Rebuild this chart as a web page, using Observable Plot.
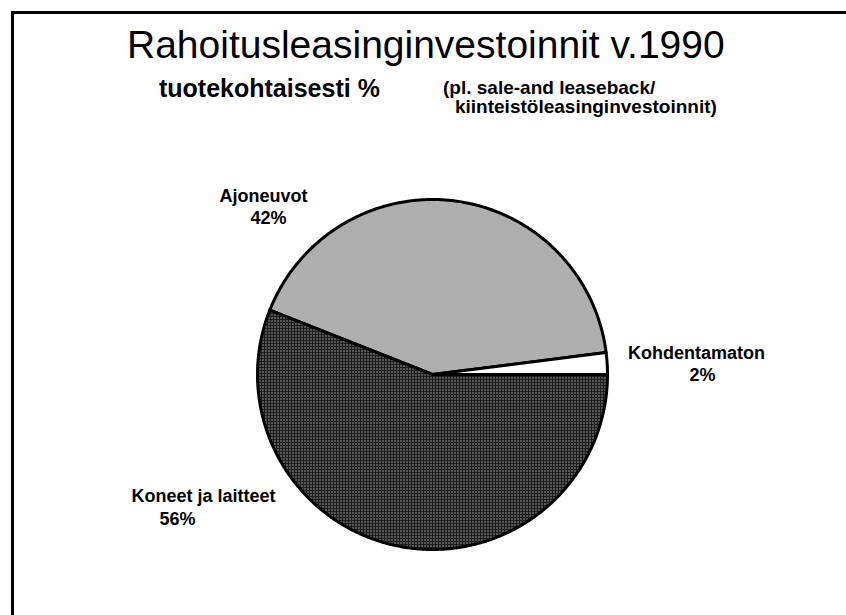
<!DOCTYPE html>
<html><head><meta charset="utf-8">
<script src="https://cdn.jsdelivr.net/npm/d3@7"></script>
<script src="https://cdn.jsdelivr.net/npm/@observablehq/plot@0.6"></script>
<style>
body{margin:0;background:#fff;}
#wrap{position:relative;width:846px;height:615px;overflow:hidden;font-family:"Liberation Sans",Arial,Helvetica,sans-serif;color:#000;background:#fff;}
#frame{position:absolute;left:11px;top:11px;right:-20px;bottom:-20px;border-top:3px solid #000;border-left:3px solid #000;}
.t{position:absolute;white-space:nowrap;line-height:1;}
#chart{position:absolute;left:0;top:130px;}
</style>
</head><body>
<div id="wrap">
  <div id="frame"></div>
  <div class="t" id="title" style="left:127px;top:25px;font-size:39px;">Rahoitusleasinginvestoinnit v.1990</div>
  <div class="t" id="sub1" style="left:159px;top:76px;font-size:25px;font-weight:bold;">tuotekohtaisesti %</div>
  <div class="t" id="sub2" style="left:443px;top:78px;font-size:19px;font-weight:bold;">(pl. sale-and leaseback/</div>
  <div class="t" id="sub3" style="left:455px;top:97px;font-size:19px;font-weight:bold;">kiinteistöleasinginvestoinnit)</div>
  <div id="chart"></div>
</div>
<script>
// ---- data ----
const categories = ["Ajoneuvot", "Kohdentamaton", "Koneet ja laitteet"];
const shares = [42, 2, 56];
const shareLabels = ["42%", "2%", "56%"];

// ---- layout (not data) ----
const fills = ["url(#pLight)", "#ffffff", "url(#pDark)"];
// label anchor positions in page pixels (name line baseline, percent line baseline)
const labelLayout = [
  {nx: 263, ny: 201, px: 268, py: 223},
  {nx: 696, ny: 358, px: 702, py: 380},
  {nx: 203, ny: 501, px: 177, py: 524}
];
const CX = 432, CY = 374, R = 175, TOP = 130, FS = 18;

const rows = categories.map((c, i) => ({name: c, share: shares[i], label: shareLabels[i], fill: fills[i]}));
// Kohdentamaton ends at 3 o'clock
const start = Math.PI / 2 - 2 * Math.PI * (shares[0] + shares[1]) / d3.sum(shares);
const arcs = d3.pie().sort(null).value(d => d.share).startAngle(start).endAngle(start + 2 * Math.PI)(rows);

function slicePoints(a) {
  const pts = [{x: 0, y: 0}];
  const n = Math.max(2, Math.ceil((a.endAngle - a.startAngle) / (Math.PI / 360)));
  for (let k = 0; k <= n; k++) {
    const t = a.startAngle + (a.endAngle - a.startAngle) * k / n;
    pts.push({x: Math.sin(t), y: Math.cos(t)});
  }
  pts.push({x: 0, y: 0});
  return pts;
}

const toX = px => (px - CX) / R;
const toY = py => (CY - py) / R;
const nameTexts = rows.map((d, i) => ({text: d.name, x: toX(labelLayout[i].nx), y: toY(labelLayout[i].ny - 0.32 * FS)}));
const pctTexts = rows.map((d, i) => ({text: d.label, x: toX(labelLayout[i].px), y: toY(labelLayout[i].py - 0.32 * FS)}));

const svgH = 485;
const plotTop = CY - TOP - R;
const svg = Plot.plot({
  width: 846,
  height: svgH,
  marginLeft: CX - R,
  marginRight: 846 - (CX + R),
  marginTop: plotTop,
  marginBottom: svgH - (plotTop + 2 * R),
  x: {domain: [-1, 1], axis: null},
  y: {domain: [-1, 1], axis: null},
  style: {fontFamily: "'Liberation Sans', Arial, Helvetica, sans-serif", background: "transparent", overflow: "visible"},
  marks: [
    ...arcs.map(a => Plot.line(slicePoints(a), {x: "x", y: "y", fill: a.data.fill, stroke: "#000", strokeWidth: 3, strokeLinejoin: "round"})),
    Plot.text(nameTexts, {x: "x", y: "y", text: "text", fontSize: FS, fontWeight: "bold", fill: "#000"}),
    Plot.text(pctTexts, {x: "x", y: "y", text: "text", fontSize: FS, fontWeight: "bold", fill: "#000"})
  ]
});

const defs = d3.select(svg).insert("defs", ":first-child");
const pl = defs.append("pattern").attr("id", "pLight").attr("width", 2).attr("height", 2).attr("patternUnits", "userSpaceOnUse");
pl.append("rect").attr("width", 2).attr("height", 2).attr("fill", "#ffffff");
pl.append("rect").attr("width", 1).attr("height", 1).attr("fill", "#5e5e5e");
pl.append("rect").attr("x", 1).attr("y", 1).attr("width", 1).attr("height", 1).attr("fill", "#5e5e5e");
const pd = defs.append("pattern").attr("id", "pDark").attr("width", 3).attr("height", 3).attr("patternUnits", "userSpaceOnUse");
pd.append("rect").attr("width", 3).attr("height", 3).attr("fill", "#1e1e1e");
pd.append("rect").attr("x", 1).attr("y", 1).attr("width", 1).attr("height", 1).attr("fill", "#ffffff");

document.getElementById("chart").appendChild(svg);
</script>
</body></html>
